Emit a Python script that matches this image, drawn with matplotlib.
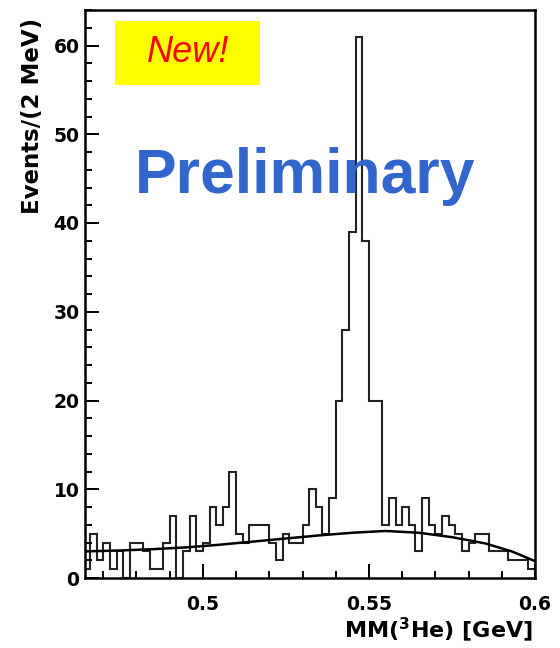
import numpy as np
import matplotlib
matplotlib.use('Agg')
import matplotlib.pyplot as plt
from matplotlib.patches import Rectangle
from matplotlib.ticker import MultipleLocator

# bin edges of the 2 MeV histogram (GeV) and the counts in each bin
bin_lo = 0.464
bin_width = 0.002
counts = [1, 5, 2, 4, 1, 3, 0, 4, 4, 3,
          1, 1, 4, 7, 0, 3, 7, 3, 4, 8,
          6, 8, 12, 5, 4, 6, 6, 6, 4, 2,
          5, 4, 4, 6, 10, 8, 5, 9, 20, 28,
          39, 61, 38, 20, 20, 6, 9, 6, 8, 6,
          3, 9, 6, 5, 7, 6, 5, 3, 4, 5,
          5, 3, 3, 3, 2, 2, 2, 1]
edges = bin_lo + bin_width * np.arange(len(counts) + 1)

# background fit curve
fit_x = [0.4645, 0.475, 0.485, 0.495, 0.505, 0.515, 0.525, 0.535,
         0.545, 0.555, 0.565, 0.575, 0.585, 0.593, 0.6]
fit_y = [3.0, 3.1, 3.25, 3.45, 3.75, 4.1, 4.45, 4.8,
         5.1, 5.3, 5.1, 4.6, 3.9, 3.0, 1.9]

fig = plt.figure(figsize=(5.6, 6.48), dpi=100)
ax = fig.add_axes([85 / 560, 1 - 578 / 648, 450 / 560, 568 / 648])

ax.stairs(counts, edges, color='#222222', lw=1.5)
ax.plot(fit_x, fit_y, color='black', lw=1.8)

ax.set_xlim(0.4645, 0.6)
ax.set_ylim(0, 64)
ax.set_xticks([0.5, 0.55, 0.6])
ax.set_xticklabels(['0.5', '0.55', '0.6'])
ax.xaxis.set_minor_locator(MultipleLocator(0.01))
ax.yaxis.set_major_locator(MultipleLocator(10))
ax.yaxis.set_minor_locator(MultipleLocator(2))
ax.tick_params(which='both', direction='in', width=1.4, top=False, right=False)
ax.tick_params(which='major', length=10)
ax.tick_params(which='minor', length=5)
ax.tick_params(axis='x', pad=12)
ax.tick_params(axis='y', pad=4)
for lab in ax.get_xticklabels() + ax.get_yticklabels():
    lab.set_fontsize(13.5)
    lab.set_fontweight('bold')
for sp in ax.spines.values():
    sp.set_linewidth(1.8)

fig.text(533 / 560, 1 - 638 / 648, r'MM($^\mathbf{3}$He) [GeV]', ha='right',
         va='baseline', fontsize=16, fontweight='bold')
fig.text(33 / 560, 1 - 18 / 648, 'Events/(2 MeV)', rotation=90, ha='center',
         va='top', fontsize=16.5, fontweight='bold')

# yellow "New!" label
fig.patches.append(Rectangle((115 / 560, 1 - 85 / 648), 145 / 560, 64 / 648,
                             transform=fig.transFigure, facecolor='#ffff00',
                             edgecolor='none', zorder=5))
fig.text(188 / 560, 1 - 53 / 648, 'New!', ha='center', va='center',
         fontsize=26, style='italic', color='#ff0000',
         family='Liberation Sans', zorder=6)

fig.text(305 / 560, 1 - 193 / 648, 'Preliminary', ha='center', va='baseline',
         fontsize=45, fontweight='bold', color='#3366cc',
         family='Liberation Sans', zorder=6)

fig.savefig('out.png', dpi=100)
